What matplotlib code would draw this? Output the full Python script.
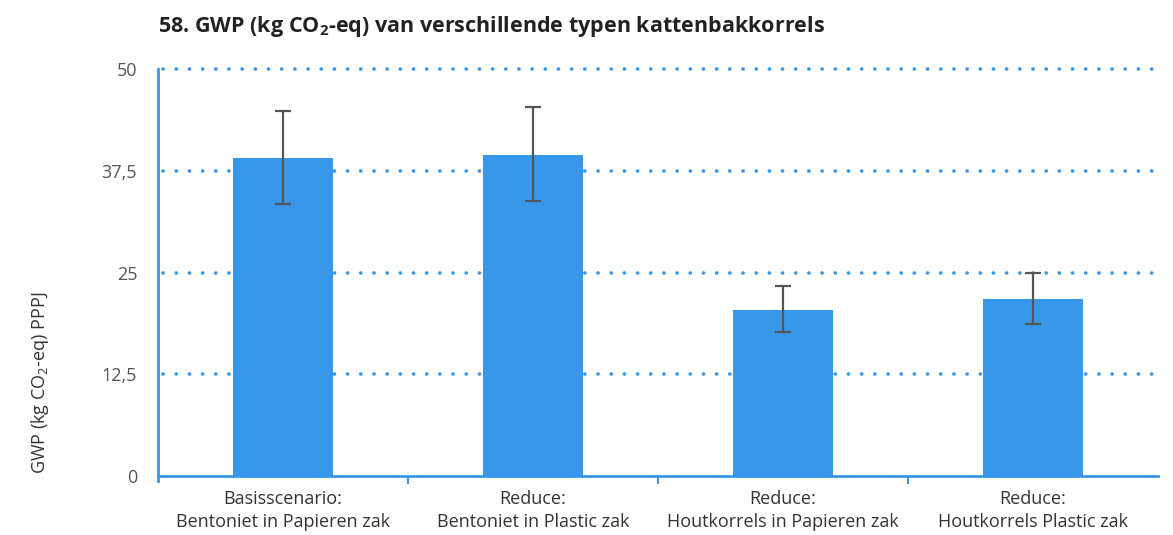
import numpy as np
import matplotlib.pyplot as plt

# GWP per scenario, with lower/upper error bar ends
categories = ['Basisscenario:\nBentoniet in Papieren zak',
              'Reduce:\nBentoniet in Plastic zak',
              'Reduce:\nHoutkorrels in Papieren zak',
              'Reduce:\nHoutkorrels Plastic zak']
gwp = [39.1, 39.4, 20.4, 21.7]
err_low = [33.4, 33.8, 17.7, 18.7]
err_high = [44.8, 45.3, 23.3, 24.9]
yticks = [0, 12.5, 25, 37.5, 50]
ytick_labels = ['0', '12,5', '25', '37,5', '50']

blue = '#3897e9'
plt.rcParams['font.family'] = ['Open Sans', 'DejaVu Sans']
plt.rcParams['mathtext.default'] = 'regular'

fig = plt.figure(figsize=(11.73, 5.35), dpi=100)
ax = fig.add_axes([0.1347, 0.1103, 0.8525, 0.7607])

x = np.arange(len(categories))
yerr = np.array([np.array(gwp) - np.array(err_low), np.array(err_high) - np.array(gwp)])
ax.bar(x, gwp, width=0.4, color=blue, zorder=2)
ax.errorbar(x, gwp, yerr=yerr, fmt='none', ecolor='#555555', elinewidth=1.6,
            capsize=6, capthick=1.6, zorder=3)

ax.set_xlim(-0.5, 3.5)
ax.set_ylim(0, 50)
ax.set_yticks(yticks)
ax.set_yticklabels(ytick_labels)
ax.set_xticks(x)
ax.set_xticklabels(categories, fontsize=13, color='#333333', linespacing=1.35)
ax.tick_params(axis='x', length=0, pad=10)
ax.set_xticks([0.5, 1.5, 2.5], minor=True)
ax.tick_params(axis='x', which='minor', length=6, width=1.5, color=blue, direction='out')
ax.tick_params(axis='y', length=0, pad=15, labelsize=13, labelcolor='#555555')

# dotted horizontal guides
for yv in yticks[1:]:
    ax.axhline(yv, xmin=0.005, color=blue, linestyle=(0, (0.05, 3.6)), linewidth=2.6,
               dash_capstyle='round', zorder=1, clip_on=False)

for side in ['top', 'right']:
    ax.spines[side].set_visible(False)
for side in ['left', 'bottom']:
    ax.spines[side].set_color(blue)
    ax.spines[side].set_linewidth(2)
ax.spines['left'].set_bounds(-0.6, 50)

fig.text(0.1347, 0.951, '58. GWP (kg CO$_2$-eq) van verschillende typen kattenbakkorrels',
         fontsize=15.5, fontweight='bold', color='#222222', va='center')
fig.text(0.034, 0.284, 'GWP (kg CO$_2$-eq) PPPJ', rotation=90, fontsize=13,
         color='#333333', ha='center', va='center')

fig.savefig('out.png', dpi=100)
